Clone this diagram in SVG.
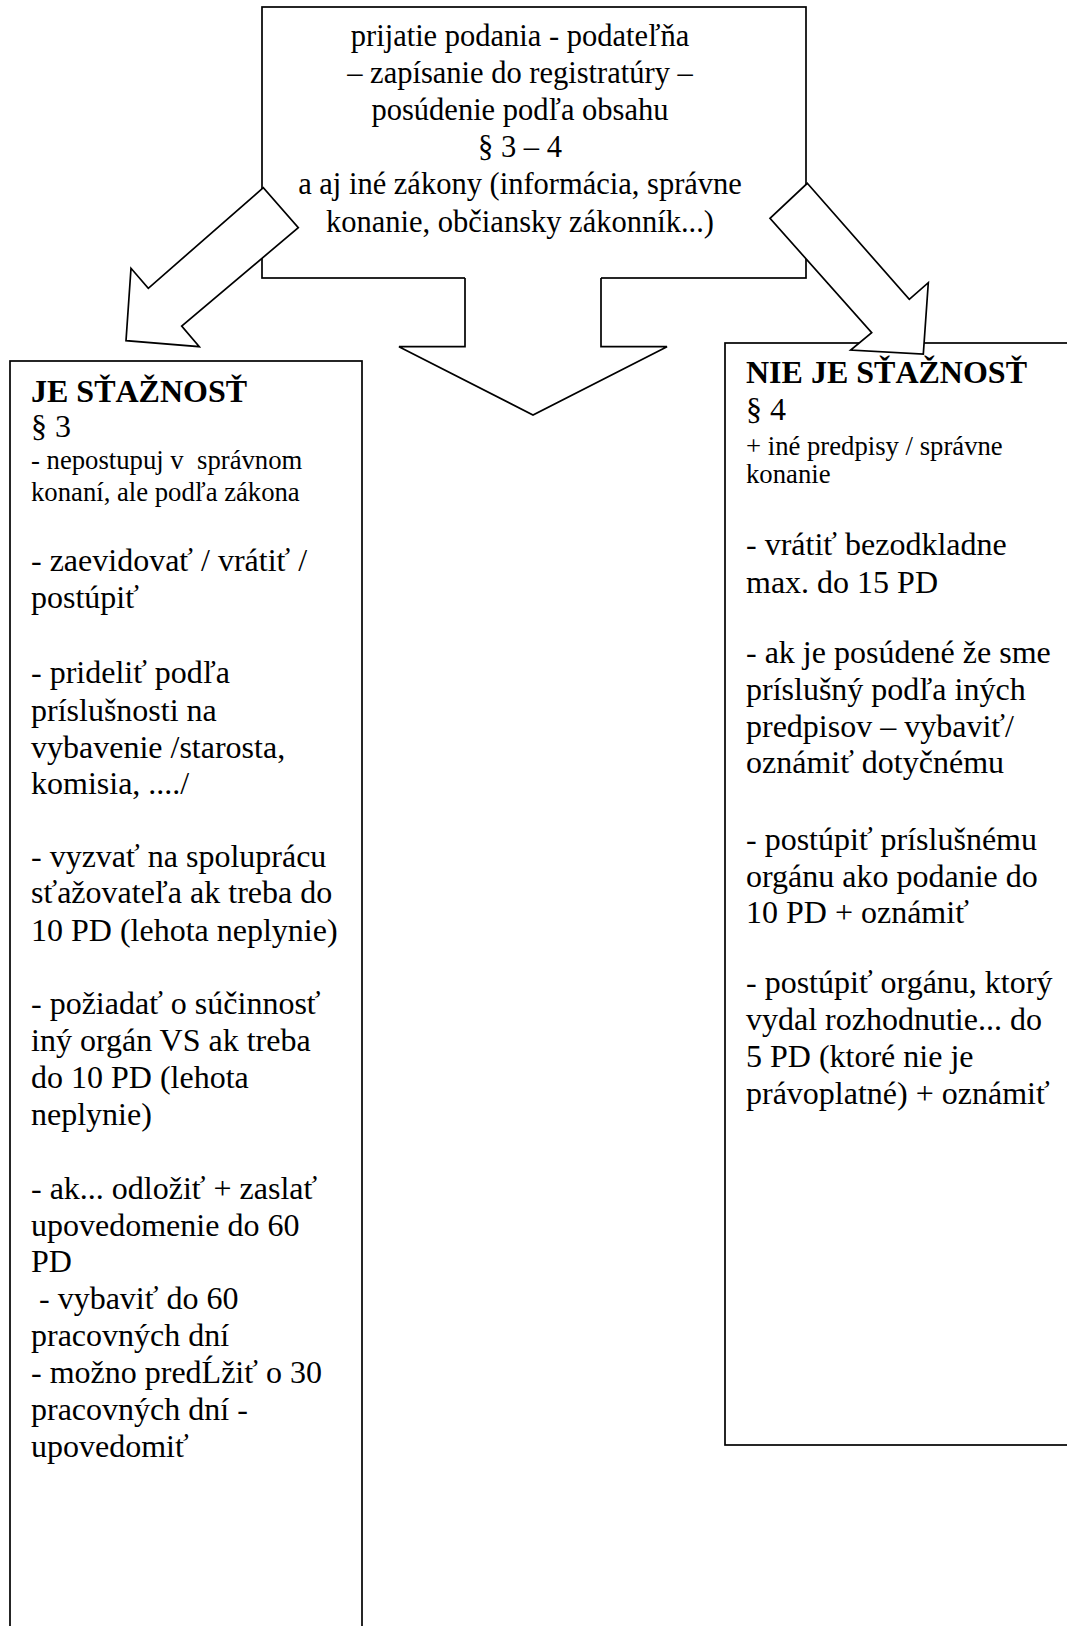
<svg xmlns="http://www.w3.org/2000/svg" width="1067" height="1626" viewBox="0 0 1067 1626">
<style>
.box{fill:#fff;stroke:#000;stroke-width:1.7}
.arrow{fill:#fff;stroke:#000;stroke-width:1.7;stroke-linejoin:miter}
.t{font-family:"Liberation Serif","Times New Roman",serif;fill:#000}
.top{font-size:30.5px;text-anchor:middle}
.b{font-size:32px}
.h{font-size:32px;font-weight:bold}
.s{font-size:26.7px}
</style>
<rect width="1067" height="1626" fill="#fff"/>
<g id="node-top">
<rect class="box" x="262" y="7" width="544" height="271"/>
<text class="t top" x="520"><tspan x="520" y="46">prijatie podania - podateľňa</tspan><tspan x="520" y="83.1">– zapísanie do registratúry –</tspan><tspan x="520" y="120.2">posúdenie podľa obsahu</tspan><tspan x="520" y="157.3">§ 3 – 4</tspan><tspan x="520" y="194.4">a aj iné zákony (informácia, správne</tspan><tspan x="520" y="231.5">konanie, občiansky zákonník...)</tspan></text>
</g>
<g id="node-left">
<rect class="box" x="10" y="361" width="352" height="1300"/>
<text class="t h" x="31" y="401.7">JE SŤAŽNOSŤ</text>
<text class="t b" x="31" y="436.7">§ 3</text>
<text class="t s" xml:space="preserve"><tspan x="31" y="469">- nepostupuj v  správnom</tspan><tspan x="31" y="500.7">konaní, ale podľa zákona</tspan></text>
<text class="t b" xml:space="preserve"><tspan x="31" y="570.7">- zaevidovať / vrátiť /</tspan><tspan x="31" y="608">postúpiť</tspan><tspan x="31" y="683.3">- prideliť podľa</tspan><tspan x="31" y="720.5">príslušnosti na</tspan><tspan x="31" y="757.5">vybavenie /starosta,</tspan><tspan x="31" y="794.3">komisia, ..../</tspan><tspan x="31" y="866.7">- vyzvať na spoluprácu</tspan><tspan x="31" y="903.3">sťažovateľa ak treba do</tspan><tspan x="31" y="940.5">10 PD (lehota neplynie)</tspan><tspan x="31" y="1014.3">- požiadať o súčinnosť</tspan><tspan x="31" y="1051">iný orgán VS ak treba</tspan><tspan x="31" y="1088">do 10 PD (lehota</tspan><tspan x="31" y="1125">neplynie)</tspan><tspan x="31" y="1199">- ak... odložiť + zaslať</tspan><tspan x="31" y="1235.5">upovedomenie do 60</tspan><tspan x="31" y="1272.3">PD</tspan><tspan x="31" y="1309.3"> - vybaviť do 60</tspan><tspan x="31" y="1345.5">pracovných dní</tspan><tspan x="31" y="1382.7">- možno predĹžiť o 30</tspan><tspan x="31" y="1420">pracovných dní -</tspan><tspan x="31" y="1456.7">upovedomiť</tspan></text>
</g>
<g id="node-right">
<rect class="box" x="725" y="343" width="360" height="1102"/>
<text class="t h" x="746" y="383.3">NIE JE SŤAŽNOSŤ</text>
<text class="t b" x="746" y="420">§ 4</text>
<text class="t s"><tspan x="746" y="455">+ iné predpisy / správne</tspan><tspan x="746" y="482.7">konanie</tspan></text>
<text class="t b"><tspan x="746" y="555">- vrátiť bezodkladne</tspan><tspan x="746" y="592.7">max. do 15 PD</tspan><tspan x="746" y="663.3">- ak je posúdené že sme</tspan><tspan x="746" y="700">príslušný podľa iných</tspan><tspan x="746" y="736.7">predpisov – vybaviť/</tspan><tspan x="746" y="773.3">oznámiť dotyčnému</tspan><tspan x="746" y="850">- postúpiť príslušnému</tspan><tspan x="746" y="886.7">orgánu ako podanie do</tspan><tspan x="746" y="922.7">10 PD + oznámiť</tspan><tspan x="746" y="993.3">- postúpiť orgánu, ktorý</tspan><tspan x="746" y="1030">vydal rozhodnutie... do</tspan><tspan x="746" y="1067.3">5 PD (ktoré nie je</tspan><tspan x="746" y="1104">právoplatné) + oznámiť</tspan></text>
</g>
<g id="connectors">
<polygon fill="#fff" stroke="none" points="465,275 465,346.7 399,346.7 533,415 667,346.7 601,346.7 601,275"/>
<polyline class="arrow" fill="none" points="465,278 465,346.7 399,346.7 533,415 667,346.7 601,346.7 601,278"/>
<polygon class="arrow" points="263.3,187.7 148.3,288.3 131,268.3 126,340.7 199.3,346.7 181.7,326 298.3,227.7"/>
<polygon class="arrow" points="807.3,183.3 909.3,299.3 928.3,282.7 923.3,354 850.7,350 871.7,332.7 770,218.3"/>
</g>
</svg>
